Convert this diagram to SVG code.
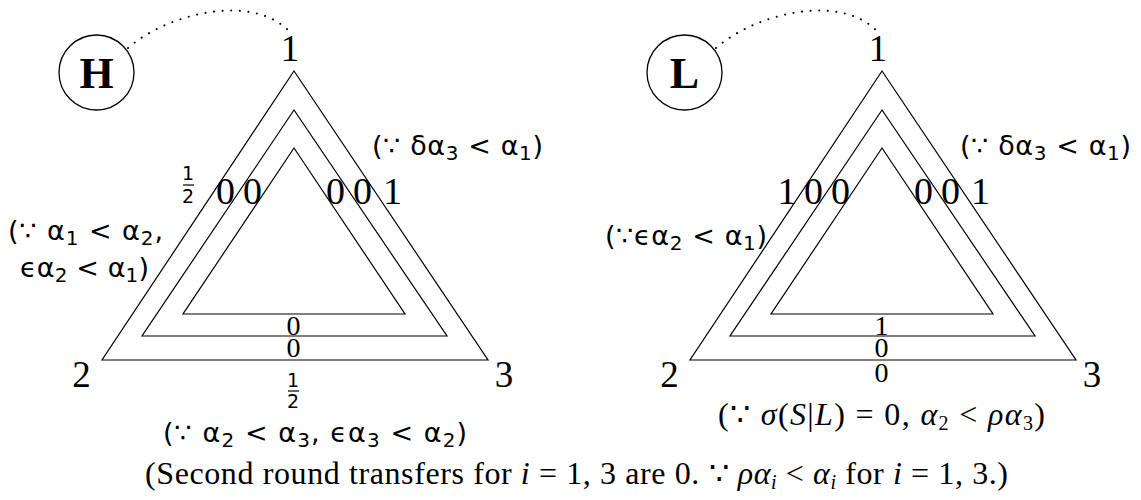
<svg xmlns="http://www.w3.org/2000/svg" width="1141" height="500" viewBox="0 0 1141 500">
<style>
.tri{fill:none;stroke:#000;stroke-width:1.2;stroke-linejoin:miter}
.dot{fill:none;stroke:#000;stroke-width:2;stroke-linecap:round;stroke-dasharray:0.1 8.5}
.circ{fill:#fff;stroke:#000;stroke-width:1.3}
.v{font-family:"Liberation Serif","DejaVu Serif",serif;font-size:37px;text-anchor:middle;fill:#000}
.big{font-family:"Liberation Serif","DejaVu Serif",serif;font-size:44px;font-weight:bold;text-anchor:middle;fill:#000}
.d0{font-family:"Liberation Serif","DejaVu Serif",serif;font-size:38px;text-anchor:middle;fill:#000}
.b0{font-family:"Liberation Serif","DejaVu Serif",serif;font-size:28px;text-anchor:middle;fill:#000}
.fr{font-family:"DejaVu Sans","Noto Sans",sans-serif;font-size:19px;text-anchor:middle;fill:#000}
.ann{font-family:"DejaVu Sans","Noto Sans",sans-serif;font-size:27px;fill:#000}
.m{font-family:"Liberation Serif","DejaVu Serif",serif;font-size:32px;fill:#000}
.it{font-style:italic}
.sub{font-size:20px}
.bar{stroke:#000;stroke-width:1.2}
</style>

<g id="connectors">
  <path class="dot" d="M128,48 C165,15 250,-8 289,31"/>
  <path class="dot" d="M716,48 C753,15 838,-8 877,31"/>
</g>

<g id="node-H">
  <circle class="circ" cx="96.5" cy="72.5" r="37.5"/>
  <text class="big" x="96.5" y="88">H</text>
</g>

<g id="diagram-H">
  <polygon class="tri" points="294,71 102,360 488,360"/>
  <polygon class="tri" points="294,110 142,336 447,336"/>
  <polygon class="tri" points="294,148 183,314 405,314"/>
  <text class="v" x="290" y="61">1</text>
  <text class="v" x="81.5" y="387">2</text>
  <text class="v" x="504" y="387">3</text>
  <text class="fr" x="188" y="180">1</text>
  <line class="bar" x1="183" y1="185" x2="194" y2="185"/>
  <text class="fr" x="188" y="203">2</text>
  <text class="d0" x="225.5" y="204">0</text>
  <text class="d0" x="252.5" y="204">0</text>
  <text class="d0" x="335.5" y="204">0</text>
  <text class="d0" x="362.5" y="204">0</text>
  <text class="d0" x="392.5" y="204">1</text>
  <text class="b0" x="293.5" y="335">0</text>
  <text class="b0" x="293.5" y="357">0</text>
  <text class="fr" x="293" y="387">1</text>
  <line class="bar" x1="288" y1="391" x2="299" y2="391"/>
  <text class="fr" x="293" y="408">2</text>
  <text class="ann" x="372" y="155" textLength="171" lengthAdjust="spacing">(∵ <tspan>δα</tspan><tspan class="sub" dy="5">3</tspan><tspan dy="-5"> &lt; α</tspan><tspan class="sub" dy="5">1</tspan><tspan dy="-5">)</tspan></text>
  <text class="ann" x="8" y="240" textLength="155" lengthAdjust="spacing">(∵ α<tspan class="sub" dy="5">1</tspan><tspan dy="-5"> &lt; α</tspan><tspan class="sub" dy="5">2</tspan><tspan dy="-5">,</tspan></text>
  <text class="ann" x="20" y="277" textLength="129" lengthAdjust="spacing">ϵα<tspan class="sub" dy="5">2</tspan><tspan dy="-5"> &lt; α</tspan><tspan class="sub" dy="5">1</tspan><tspan dy="-5">)</tspan></text>
  <text class="ann" x="163" y="442" textLength="304" lengthAdjust="spacing">(∵ α<tspan class="sub" dy="5">2</tspan><tspan dy="-5"> &lt; α</tspan><tspan class="sub" dy="5">3</tspan><tspan dy="-5">, ϵα</tspan><tspan class="sub" dy="5">3</tspan><tspan dy="-5"> &lt; α</tspan><tspan class="sub" dy="5">2</tspan><tspan dy="-5">)</tspan></text>
</g>

<g id="node-L">
  <circle class="circ" cx="684.5" cy="72.5" r="37.5"/>
  <text class="big" x="684.5" y="88">L</text>
</g>

<g id="diagram-L">
  <polygon class="tri" points="882,71 690,360 1076,360"/>
  <polygon class="tri" points="882,110 730,336 1035,336"/>
  <polygon class="tri" points="882,148 771,314 993,314"/>
  <text class="v" x="878" y="61">1</text>
  <text class="v" x="669.5" y="387">2</text>
  <text class="v" x="1092" y="387">3</text>
  <text class="d0" x="787" y="204">1</text>
  <text class="d0" x="813.5" y="204">0</text>
  <text class="d0" x="840.5" y="204">0</text>
  <text class="d0" x="923.5" y="204">0</text>
  <text class="d0" x="950.5" y="204">0</text>
  <text class="d0" x="980.5" y="204">1</text>
  <text class="b0" x="881.5" y="335">1</text>
  <text class="b0" x="881.5" y="357">0</text>
  <text class="b0" x="881.5" y="382">0</text>
  <text class="ann" x="960" y="155" textLength="171" lengthAdjust="spacing">(∵ <tspan>δα</tspan><tspan class="sub" dy="5">3</tspan><tspan dy="-5"> &lt; α</tspan><tspan class="sub" dy="5">1</tspan><tspan dy="-5">)</tspan></text>
  <text class="ann" x="605" y="245" textLength="162" lengthAdjust="spacing">(∵ϵα<tspan class="sub" dy="5">2</tspan><tspan dy="-5"> &lt; α</tspan><tspan class="sub" dy="5">1</tspan><tspan dy="-5">)</tspan></text>
  <text class="m" x="718" y="425" textLength="327" lengthAdjust="spacing">(∵ <tspan class="it">σ</tspan>(<tspan class="it">S</tspan>|<tspan class="it">L</tspan>) = 0, <tspan class="it">α</tspan><tspan class="sub" dy="5">2</tspan><tspan dy="-5"> &lt; </tspan><tspan class="it">ρα</tspan><tspan class="sub" dy="5">3</tspan><tspan dy="-5">)</tspan></text>
</g>

<g id="caption">
  <text class="m" x="145" y="484" textLength="863" lengthAdjust="spacing">(Second round transfers for <tspan class="it">i</tspan> = 1, 3 are 0. ∵ <tspan class="it">ρα</tspan><tspan class="sub it" dy="5">i</tspan><tspan dy="-5"> &lt; </tspan><tspan class="it">α</tspan><tspan class="sub it" dy="5">i</tspan><tspan dy="-5"> for </tspan><tspan class="it">i</tspan> = 1, 3.)</text>
</g>
</svg>
